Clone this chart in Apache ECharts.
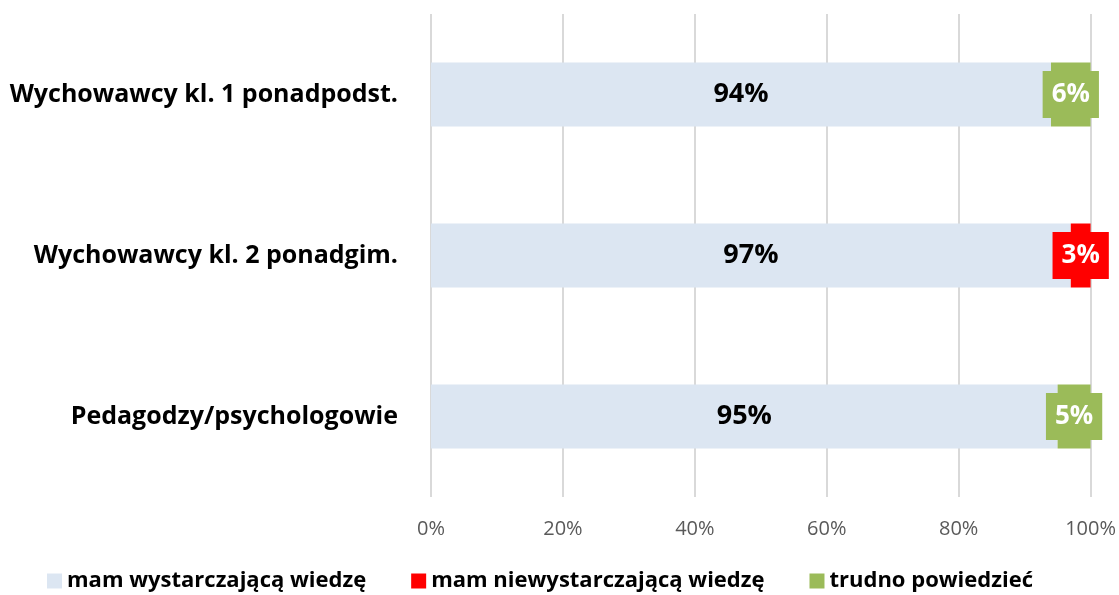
<!DOCTYPE html>
<html>
<head>
<meta charset="utf-8">
<script src="https://cdn.jsdelivr.net/npm/echarts@6/dist/echarts.min.js"></script>
<style>
  html, body { margin: 0; padding: 0; background: #ffffff; }
  #chart { width: 1119px; height: 595px; }
</style>
</head>
<body>
<div id="chart"></div>
<script>
// Survey groups (top to bottom)
const categories = [
  'Wychowawcy kl. 1 ponadpodst.',
  'Wychowawcy kl. 2 ponadgim.',
  'Pedagodzy/psychologowie'
];
const seriesNames = ['mam wystarczającą wiedzę', 'mam niewystarczającą wiedzę', 'trudno powiedzieć'];
const enoughKnowledge = [94, 97, 95];
const notEnoughKnowledge = [0, 3, 0];
const hardToSay = [6, 0, 5];
const xTicks = [0, 20, 40, 60, 80, 100];

const colors = ['#dce6f2', '#ff0000', '#9bbb59'];
const FONT = '"Open Sans", Lato, sans-serif';

function makeData(values, labelStyle) {
  return values.map(v => ({
    value: v,
    label: v > 0 ? labelStyle : { show: false }
  }));
}

const bigLabel = {
  show: true, position: 'inside', formatter: '{c}%',
  color: '#000', fontWeight: 'bold', fontSize: 27, fontFamily: FONT
};
// small segments get a coloured box behind their white label
function boxLabel(bg) {
  return {
    show: true, position: 'inside', formatter: '{c}%',
    color: '#fff', fontWeight: 'bold', fontSize: 26, fontFamily: FONT,
    lineHeight: 28,
    backgroundColor: bg, padding: [10, 9, 9, 9]
  };
}

const chart = echarts.init(document.getElementById('chart'), null, { renderer: 'canvas' });
chart.setOption({
  animation: false,
  color: colors,
  grid: { left: 431, right: 28, top: 14, bottom: 98, containLabel: false },
  legend: {
    top: 565, left: 42,
    itemWidth: 15, itemHeight: 15, itemGap: 45,
    icon: 'rect',
    textStyle: { fontSize: 22, fontWeight: 'bold', color: '#000', fontFamily: FONT },
    data: seriesNames
  },
  xAxis: {
    type: 'value', min: 0, max: 100, interval: 20,
    axisLine: { show: false }, axisTick: { show: false },
    splitLine: { lineStyle: { color: '#d9d9d9', width: 2 } },
    axisLabel: {
      formatter: v => xTicks.includes(v) ? v + '%' : '',
      color: '#595959', fontSize: 20, fontFamily: FONT, margin: 22
    }
  },
  yAxis: {
    type: 'category', data: categories, inverse: true,
    axisLine: { show: false }, axisTick: { show: false },
    axisLabel: { color: '#000', fontSize: 25, fontWeight: 'bold', fontFamily: FONT, margin: 33 }
  },
  series: [
    { name: seriesNames[0], type: 'bar', stack: 'all', barWidth: 64,
      data: makeData(enoughKnowledge, bigLabel) },
    { name: seriesNames[1], type: 'bar', stack: 'all', barWidth: 64,
      data: makeData(notEnoughKnowledge, boxLabel(colors[1])) },
    { name: seriesNames[2], type: 'bar', stack: 'all', barWidth: 64,
      data: makeData(hardToSay, boxLabel(colors[2])) }
  ]
});
</script>
</body>
</html>
